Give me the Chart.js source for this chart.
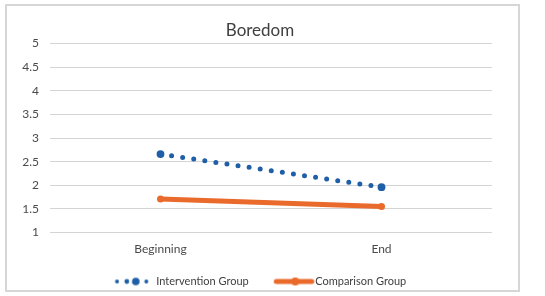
<!DOCTYPE html>
<html>
<head>
<meta charset="utf-8">
<script src="https://cdn.jsdelivr.net/npm/chart.js@4.4.0/dist/chart.umd.min.js"></script>
<style>
  html, body { margin: 0; padding: 0; background: #fff; }
  #frame {
    position: absolute; left: 5px; top: 4px;
    width: 511px; height: 284px;
    border: 2px solid #d6d6d6;
  }
  #frame canvas { display: block; }
</style>
</head>
<body>
<div id="frame"><canvas id="boredomChart" width="511" height="284"></canvas></div>
<script>
// --- Data ---
const categories = ["Beginning", "End"];
const interventionGroup = [2.66, 1.96];
const comparisonGroup = [1.71, 1.55];
const yTicks = [1, 1.5, 2, 2.5, 3, 3.5, 4, 4.5, 5];

const BLUE = "#1f5fa8";
const ORANGE = "#e96a2b";
const BOX_W = 59;      // legend box width (blank lead-in + icon)
const LEGEND_DX = -11;
const LEGEND_DY = 9;

// --- Legend icons (drawn once on small canvases) ---
function makeIcon(kind) {
    const c = document.createElement("canvas");
    c.width = BOX_W + 12; c.height = 12;
    const g = c.getContext("2d");
    const xEnd = BOX_W + 6; // right edge of the legend box
    if (kind === "dots") {
        g.fillStyle = BLUE;
        [[-33.8, 2], [-24, 2.4], [-15, 3.8], [-4.5, 2]].forEach(d => {
            g.beginPath(); g.arc(xEnd + d[0], 6, d[1], 0, Math.PI * 2); g.fill();
        });
    } else {
        g.strokeStyle = ORANGE; g.lineWidth = 5; g.lineCap = "round";
        g.beginPath(); g.moveTo(xEnd - 33.5, 6); g.lineTo(xEnd + 2, 6); g.stroke();
        g.fillStyle = ORANGE;
        g.beginPath(); g.arc(xEnd - 14.5, 6, 4, 0, Math.PI * 2); g.fill();
    }
    return c;
}
const icons = [makeIcon("dots"), makeIcon("line")];

// nudge the legend row after layout (chart area is already fixed)
const legendNudge = {
    id: "legendNudge",
    afterLayout(chart) {
        const lg = chart.legend;
        lg.left += LEGEND_DX; lg.right += LEGEND_DX;
        lg.top += LEGEND_DY; lg.bottom += LEGEND_DY;
    }
};

// --- Chart ---
const ctx = document.getElementById("boredomChart").getContext("2d");
new Chart(ctx, {
    type: "line",
    data: {
        labels: categories,
        datasets: [
            {
                label: "Intervention Group",
                data: interventionGroup,
                borderColor: BLUE,
                backgroundColor: BLUE,
                borderWidth: 5,
                borderDash: [0, 11.2],
                borderCapStyle: "round",
                pointRadius: 3.9,
                pointBorderWidth: 0,
                pointBackgroundColor: BLUE
            },
            {
                label: "Comparison Group",
                data: comparisonGroup,
                borderColor: ORANGE,
                backgroundColor: ORANGE,
                borderWidth: 5,
                borderCapStyle: "round",
                pointRadius: 3.5,
                pointBorderWidth: 0,
                pointBackgroundColor: ORANGE
            }
        ]
    },
    plugins: [legendNudge],
    options: {
        responsive: false,
        animation: false,
        layout: { padding: { left: 5, right: 10, top: 8, bottom: 2 } },
        plugins: {
            title: {
                display: true,
                text: "Boredom",
                color: "#404040",
                font: { family: "Lato", size: 17, weight: "normal" },
                padding: { top: 6, bottom: 3 }
            },
            legend: {
                position: "bottom",
                labels: {
                    usePointStyle: true,
                    pointStyleWidth: BOX_W,
                    padding: 2,
                    color: "#404040",
                    font: { family: "Lato", size: 11 },
                    generateLabels: chart => chart.data.datasets.map((ds, i) => ({
                        text: ds.label,
                        pointStyle: icons[i],
                        fillStyle: ds.borderColor,
                        strokeStyle: ds.borderColor,
                        lineWidth: 0,
                        datasetIndex: i,
                        fontColor: "#404040"
                    }))
                }
            },
            tooltip: { enabled: false }
        },
        scales: {
            x: {
                offset: true,
                grid: { display: false, drawTicks: false },
                border: { display: false },
                ticks: { color: "#4a4a4a", font: { family: "Lato", size: 12 }, padding: 9 }
            },
            y: {
                min: 1,
                max: 5,
                afterFit: scale => { scale.width = 38; },
                afterBuildTicks: scale => { scale.ticks = yTicks.map(v => ({ value: v })); },
                grid: { color: "#d4d4d4", lineWidth: 1, drawTicks: false },
                border: { display: false },
                ticks: {
                    color: "#4a4a4a",
                    font: { family: "Lato", size: 12 },
                    padding: 11,
                    callback: v => String(v)
                }
            },
            // empty right-hand axis, only reserves the right margin
            yRight: {
                position: "right",
                min: 1,
                max: 5,
                grid: { display: false, drawTicks: false },
                border: { display: false },
                ticks: { display: false },
                afterFit: scale => { scale.width = 16; }
            }
        }
    }
});
</script>
</body>
</html>
